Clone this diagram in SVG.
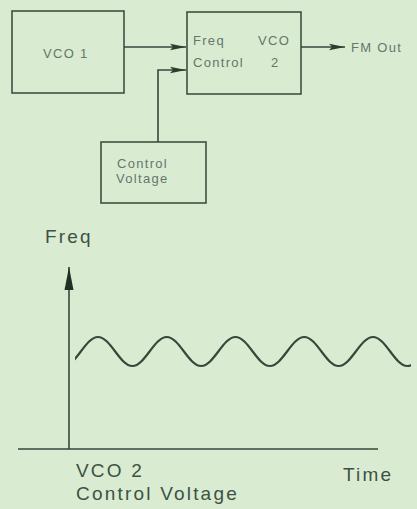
<svg xmlns="http://www.w3.org/2000/svg" width="417" height="509" viewBox="0 0 417 509">
<defs>
<style>
.box{fill:none;stroke:#3b5240;stroke-width:1.6}
.ln{fill:none;stroke:#34493a;stroke-width:1.6}
.lbl{font-family:"Liberation Sans",Arial,sans-serif;font-size:13px;fill:#66766a;letter-spacing:1.3px}
.big{font-family:"Liberation Sans",Arial,sans-serif;font-size:19px;fill:#3e5143;letter-spacing:2.2px}
.wave{fill:none;stroke:#34493a;stroke-width:2.2}
</style>
<marker id="ah" viewBox="0 0 16 8" refX="16" refY="4" markerWidth="16" markerHeight="8" markerUnits="userSpaceOnUse" orient="auto">
<path d="M0,0.8 L16,4 L0,7.2 L3,4 Z" fill="#2a3d2f"/>
</marker>
<marker id="ahBig" viewBox="0 0 10 24" refX="5" refY="0" markerWidth="10" markerHeight="24" markerUnits="userSpaceOnUse" orient="0">
<path d="M5,0 L9.5,23 L0.5,23 Z" fill="#1f3024"/>
</marker>
<clipPath id="wc"><rect x="75" y="320" width="336" height="60"/></clipPath>
</defs>
<rect width="417" height="509" fill="#d9ecd2"/>
<g id="vco1">
<rect class="box" x="12" y="11" width="112" height="82"/>
<text class="lbl" x="43" y="58">VCO 1</text>
</g>
<g id="vco2">
<rect class="box" x="187" y="12" width="114" height="82"/>
<text class="lbl" x="193" y="45">Freq</text>
<text class="lbl" x="258" y="45">VCO</text>
<text class="lbl" x="193" y="67">Control</text>
<text class="lbl" x="271" y="67">2</text>
</g>
<g id="cv">
<rect class="box" x="101" y="142" width="105" height="61"/>
<text class="lbl" x="117" y="168">Control</text>
<text class="lbl" x="116" y="183">Voltage</text>
</g>
<g id="fmout">
<text class="lbl" x="351" y="52" letter-spacing="1.8">FM Out</text>
</g>
<g id="connectors">
<line class="ln" x1="124" y1="47" x2="186" y2="47" marker-end="url(#ah)"/>
<polyline class="ln" points="158,142 158,70 186,70" marker-end="url(#ah)"/>
<line class="ln" x1="301" y1="47" x2="345" y2="47" marker-end="url(#ah)"/>
</g>
<g id="graph">
<line class="ln" x1="69" y1="449" x2="69" y2="267" stroke-width="2" marker-end="url(#ahBig)"/>
<line class="ln" x1="18" y1="449" x2="378" y2="449" stroke-width="2.2"/>
<path class="wave" clip-path="url(#wc)" d="M63.625,366 C76.145,366 85.48,337 98,337 S119.855,366 132.375,366 S154.23,337 166.75,337 S188.605,366 201.125,366 S222.98,337 235.5,337 S257.355,366 269.875,366 S291.73,337 304.25,337 S326.105,366 338.625,366 S360.48,337 373,337 S394.855,366 407.375,366 S429.23,337 441.75,337"/>
<text class="big" x="45" y="243">Freq</text>
<text class="big" x="76" y="477">VCO 2</text>
<text class="big" x="76" y="500">Control Voltage</text>
<text class="big" x="343" y="481">Time</text>
</g>
</svg>
